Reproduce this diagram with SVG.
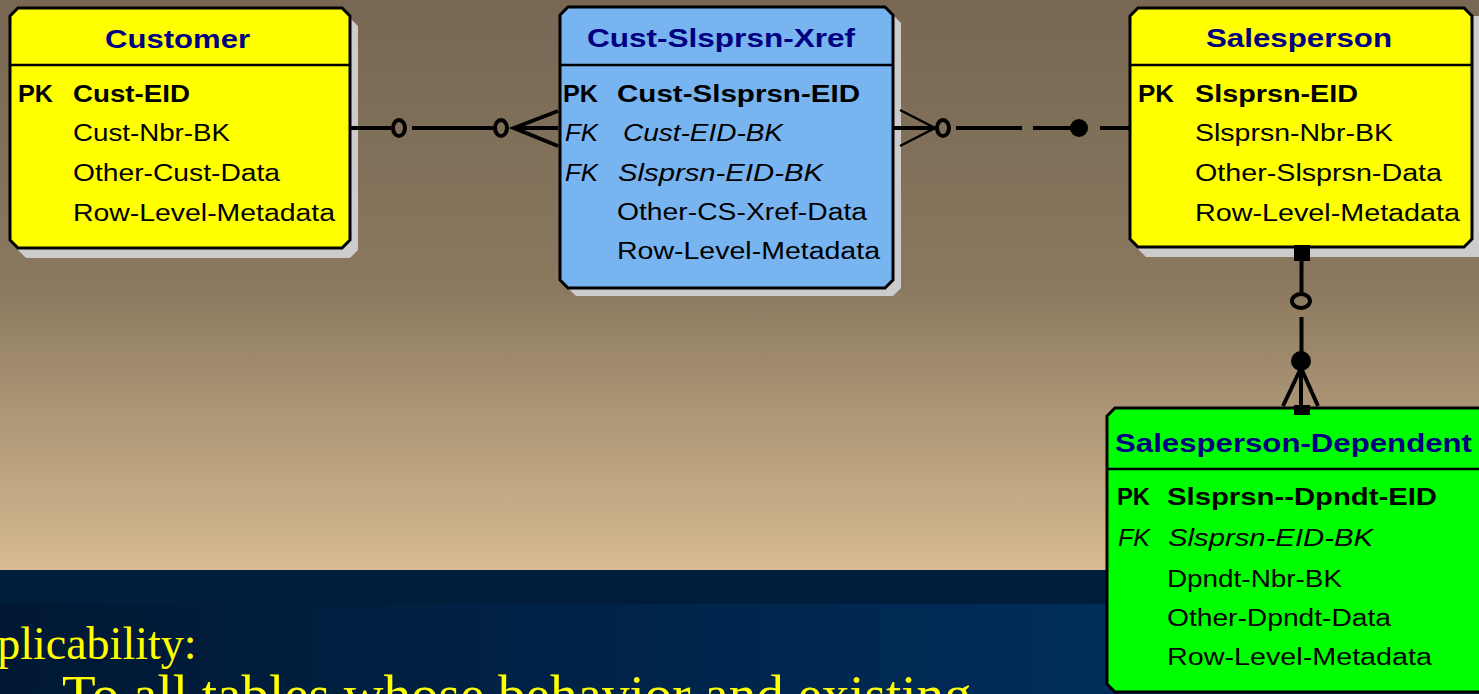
<svg xmlns="http://www.w3.org/2000/svg" width="1479" height="694" viewBox="0 0 1479 694">
  <defs>
    <linearGradient id="bgTop" x1="0" y1="0" x2="0" y2="1">
      <stop offset="0" stop-color="#776753"/>
      <stop offset="0.5" stop-color="#8a785f"/>
      <stop offset="1" stop-color="#d7bb91"/>
    </linearGradient>
    <linearGradient id="bgBottom" x1="0" y1="0" x2="1" y2="0">
      <stop offset="0" stop-color="#001833"/>
      <stop offset="1" stop-color="#003468"/>
    </linearGradient>
    <style>
      .shadow { fill: #cccccc; }
      .box { stroke: #000; stroke-width: 3; }
      .yellow { fill: #ffff00; }
      .blue { fill: #78b4f0; }
      .green { fill: #00ff00; }
      .divider { stroke: #000; stroke-width: 2.5; }
      .title { font-family: "Liberation Sans", Arial, sans-serif; font-weight: bold; font-size: 26px; fill: #000080; }
      .row { font-family: "Liberation Sans", Arial, sans-serif; font-size: 23px; fill: #000; }
      .key { font-weight: bold; }
      .fk { font-style: italic; }
      .conn { stroke: #000; stroke-width: 4; fill: none; }
      .thin { stroke: #000; stroke-width: 2.5; fill: none; }
      .dot { fill: #000; }
      .slide { font-family: "Liberation Serif", "Times New Roman", serif; fill: #ffff00; }
    </style>
  </defs>

  <!-- backdrop -->
  <rect x="0" y="0" width="1479" height="570" fill="url(#bgTop)"/>
  <rect x="0" y="570" width="1479" height="34" fill="#001d3c"/>
  <rect x="0" y="604" width="1479" height="90" fill="url(#bgBottom)"/>

  <!-- slide text -->
  <text class="slide" x="-59" y="659" font-size="46">Applicability:</text>
  <text class="slide" x="62" y="713" font-size="55">To all tables whose behavior and existing</text>

  <!-- Customer entity -->
  <g id="customer">
    <polygon class="shadow" points="26,18 350,18 358,26 358,250 350,258 26,258 18,250 18,26"/>
    <polygon class="box yellow" points="18,8 342,8 350,16 350,240 342,248 18,248 10,240 10,16"/>
    <line class="divider" x1="10" y1="65" x2="350" y2="65"/>
    <text class="title" x="105" y="48" textLength="145" lengthAdjust="spacingAndGlyphs">Customer</text>
    <text class="row key" x="18" y="102" textLength="35" lengthAdjust="spacingAndGlyphs">PK</text>
    <text class="row key" x="73" y="102" textLength="117" lengthAdjust="spacingAndGlyphs">Cust-EID</text>
    <text class="row" x="73" y="141" textLength="157" lengthAdjust="spacingAndGlyphs">Cust-Nbr-BK</text>
    <text class="row" x="73" y="181" textLength="207" lengthAdjust="spacingAndGlyphs">Other-Cust-Data</text>
    <text class="row" x="73" y="221" textLength="262" lengthAdjust="spacingAndGlyphs">Row-Level-Metadata</text>
  </g>

  <!-- Cust-Slsprsn-Xref entity -->
  <g id="cust-slsprsn-xref">
    <polygon class="shadow" points="576,15 893,15 901,23 901,288 893,296 576,296 568,288 568,23"/>
    <polygon class="box blue" points="568,7 885,7 893,15 893,280 885,288 568,288 560,280 560,15"/>
    <line class="divider" x1="560" y1="65" x2="893" y2="65"/>
    <text class="title" x="587" y="47" textLength="268" lengthAdjust="spacingAndGlyphs">Cust-Slsprsn-Xref</text>
    <text class="row key" x="563" y="102" textLength="35" lengthAdjust="spacingAndGlyphs">PK</text>
    <text class="row key" x="617" y="102" textLength="243" lengthAdjust="spacingAndGlyphs">Cust-Slsprsn-EID</text>
    <text class="row fk" x="565" y="141" textLength="33" lengthAdjust="spacingAndGlyphs">FK</text>
    <text class="row fk" x="623" y="141" textLength="160" lengthAdjust="spacingAndGlyphs">Cust-EID-BK</text>
    <text class="row fk" x="565" y="181" textLength="33" lengthAdjust="spacingAndGlyphs">FK</text>
    <text class="row fk" x="618" y="181" textLength="205" lengthAdjust="spacingAndGlyphs">Slsprsn-EID-BK</text>
    <text class="row" x="617" y="220" textLength="250" lengthAdjust="spacingAndGlyphs">Other-CS-Xref-Data</text>
    <text class="row" x="617" y="259" textLength="263" lengthAdjust="spacingAndGlyphs">Row-Level-Metadata</text>
  </g>

  <!-- Salesperson entity -->
  <g id="salesperson">
    <polygon class="shadow" points="1146,16 1480,16 1480,257 1146,257 1138,249 1138,24"/>
    <polygon class="box yellow" points="1138,8 1464,8 1472,16 1472,239 1464,247 1138,247 1130,239 1130,16"/>
    <line class="divider" x1="1130" y1="65" x2="1472" y2="65"/>
    <text class="title" x="1206" y="47" textLength="186" lengthAdjust="spacingAndGlyphs">Salesperson</text>
    <text class="row key" x="1138" y="102" textLength="36" lengthAdjust="spacingAndGlyphs">PK</text>
    <text class="row key" x="1195" y="102" textLength="163" lengthAdjust="spacingAndGlyphs">Slsprsn-EID</text>
    <text class="row" x="1195" y="141" textLength="198" lengthAdjust="spacingAndGlyphs">Slsprsn-Nbr-BK</text>
    <text class="row" x="1195" y="181" textLength="247" lengthAdjust="spacingAndGlyphs">Other-Slsprsn-Data</text>
    <text class="row" x="1195" y="221" textLength="265" lengthAdjust="spacingAndGlyphs">Row-Level-Metadata</text>
  </g>

  <!-- Salesperson-Dependent entity -->
  <g id="salesperson-dependent">
    <polygon class="box green" points="1115,408 1495,408 1495,692 1115,692 1107,684 1107,416"/>
    <line class="divider" x1="1107" y1="469" x2="1495" y2="469"/>
    <text class="title" x="1115" y="452" font-size="31" textLength="357" lengthAdjust="spacingAndGlyphs">Salesperson-Dependent</text>
    <text class="row key" x="1117" y="505" textLength="33" lengthAdjust="spacingAndGlyphs">PK</text>
    <text class="row key" x="1167" y="505" textLength="270" lengthAdjust="spacingAndGlyphs">Slsprsn--Dpndt-EID</text>
    <text class="row fk" x="1118" y="546" textLength="32" lengthAdjust="spacingAndGlyphs">FK</text>
    <text class="row fk" x="1168" y="546" textLength="205" lengthAdjust="spacingAndGlyphs">Slsprsn-EID-BK</text>
    <text class="row" x="1167" y="587" textLength="175" lengthAdjust="spacingAndGlyphs">Dpndt-Nbr-BK</text>
    <text class="row" x="1167" y="626" textLength="224" lengthAdjust="spacingAndGlyphs">Other-Dpndt-Data</text>
    <text class="row" x="1167" y="665" textLength="265" lengthAdjust="spacingAndGlyphs">Row-Level-Metadata</text>
  </g>

  <!-- relationship lines, drawn over the entity shadows -->
  <g id="connectors">
    <!-- Customer to Cust-Slsprsn-Xref -->
    <line class="conn" x1="351" y1="128" x2="391" y2="128"/>
    <ellipse class="conn" cx="399" cy="128" rx="6" ry="8"/>
    <line class="conn" x1="412" y1="128" x2="493" y2="128"/>
    <ellipse class="conn" cx="501" cy="128" rx="6" ry="8"/>
    <path class="conn" d="M558,111 L514,128 L558,146 M514,128 H558"/>

    <!-- Cust-Slsprsn-Xref to Salesperson -->
    <path class="thin" d="M900,110 L935,128 L900,146"/>
    <line class="conn" x1="894" y1="128" x2="935" y2="128"/>
    <ellipse class="conn" cx="943" cy="128" rx="6" ry="8"/>
    <line class="conn" x1="956" y1="128" x2="1022" y2="128"/>
    <line class="conn" x1="1033" y1="128" x2="1072" y2="128"/>
    <circle class="dot" cx="1079" cy="128" r="9"/>
    <line class="conn" x1="1100" y1="128" x2="1129" y2="128"/>

    <!-- Salesperson to Salesperson-Dependent -->
    <rect class="dot" x="1294" y="245" width="16" height="16"/>
    <line class="conn" x1="1301.5" y1="260" x2="1301.5" y2="292"/>
    <ellipse class="conn" cx="1301" cy="301" rx="9" ry="7"/>
    <line class="conn" x1="1301.5" y1="317" x2="1301.5" y2="353"/>
    <circle class="dot" cx="1301" cy="361" r="10"/>
    <path class="conn" d="M1283,406 L1301,368 L1318,406 M1301,368 V408"/>
    <rect class="dot" x="1294" y="405" width="16" height="10"/>
  </g>
</svg>
